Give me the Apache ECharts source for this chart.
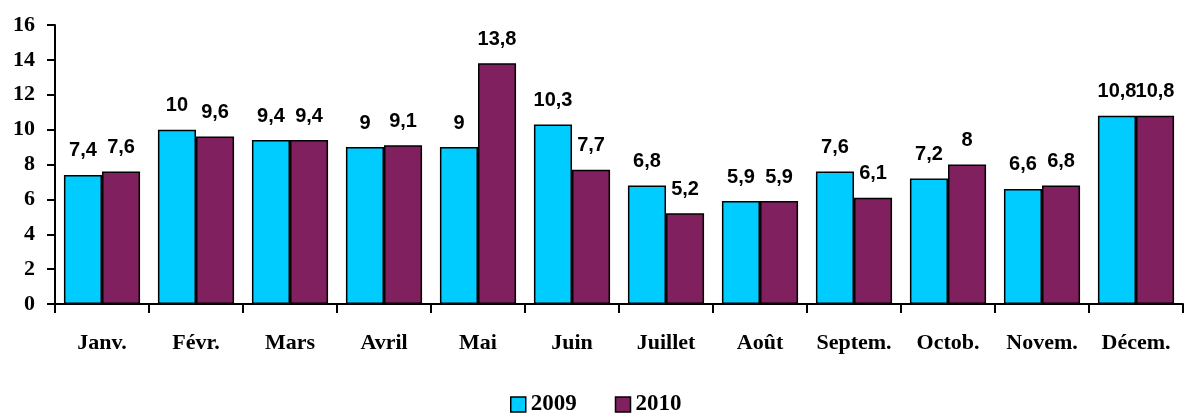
<!DOCTYPE html>
<html>
<head>
<meta charset="utf-8">
<script src="https://cdn.jsdelivr.net/npm/echarts@6/dist/echarts.min.js"></script>
<style>
  html, body { margin: 0; padding: 0; background: #fff; }
  #chart { width: 1187px; height: 413px; }
</style>
</head>
<body>
<div id="chart"></div>
<script>
// mois
var months = ['Janv.', 'Févr.', 'Mars', 'Avril', 'Mai', 'Juin', 'Juillet', 'Août', 'Septem.', 'Octob.', 'Novem.', 'Décem.']
var values2009 = [7.4, 10, 9.4, 9, 9, 10.3, 6.8, 5.9, 7.6, 7.2, 6.6, 10.8]
var values2010 = [7.6, 9.6, 9.4, 9.1, 13.8, 7.7, 5.2, 5.9, 6.1, 8, 6.8, 10.8]
var seriesNames = ['2009', '2010']

var chart = echarts.init(document.getElementById('chart'))

var serifBold = {
  fontFamily: '"Liberation Serif", "Times New Roman", serif',
  fontWeight: 'bold',
  fontSize: 22,
  color: '#000'
}

function barSeries(name, data, color) {
  return {
    name: name,
    type: 'bar',
    data: data,
    barGap: '0%',
    barCategoryGap: '19%',
    itemStyle: {
      color: color,
      borderColor: '#000',
      borderWidth: 1.5
    },
    label: {
      show: true,
      position: 'top',
      distance: 14,
      fontFamily: '"Liberation Sans", Arial, sans-serif',
      fontWeight: 'bold',
      fontSize: 20,
      color: '#000',
      formatter: function (p) {
        return String(p.value).replace('.', ',')
      }
    }
  }
}

chart.setOption({
  animation: false,
  grid: {
    left: 55,
    right: 4,
    top: 25,
    bottom: 109,
    containLabel: false
  },
  legend: {
    bottom: -8,
    left: 505,
    itemWidth: 15,
    itemHeight: 15,
    itemGap: 38,
    icon: 'rect',
    itemStyle: { borderColor: '#000', borderWidth: 1.5 },
    textStyle: Object.assign({}, serifBold, { fontSize: 23 }),
    data: seriesNames
  },
  xAxis: {
    type: 'category',
    data: months,
    axisLine: { lineStyle: { color: '#000', width: 2 } },
    axisTick: { show: true, length: 9, lineStyle: { color: '#000', width: 2 } },
    axisLabel: Object.assign({ margin: 28, interval: 0 }, serifBold)
  },
  yAxis: {
    type: 'value',
    min: 0,
    max: 16,
    interval: 2,
    splitLine: { show: false },
    axisLine: { show: true, lineStyle: { color: '#000', width: 2 } },
    axisTick: { show: true, length: 8, lineStyle: { color: '#000', width: 2 } },
    axisLabel: Object.assign({ margin: 20 }, serifBold)
  },
  series: [
    barSeries(seriesNames[0], values2009, '#00CCFF'),
    barSeries(seriesNames[1], values2010, '#80205E')
  ]
})
</script>
</body>
</html>
